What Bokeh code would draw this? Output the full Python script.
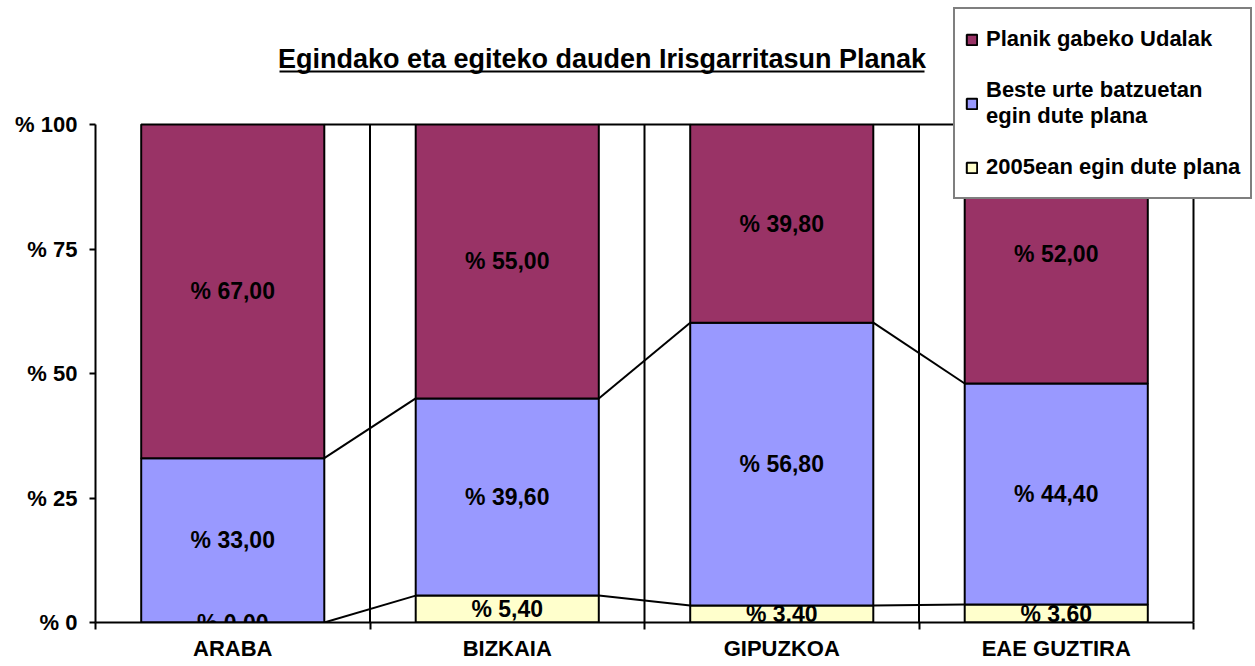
from bokeh.plotting import figure
from bokeh.models import ColumnDataSource, Range1d, FixedTicker, Legend, LegendItem
from bokeh.core.properties import value
from bokeh.embed import file_html
from bokeh.resources import INLINE

# ---------------- data ----------------
categories = ["ARABA", "BIZKAIA", "GIPUZKOA", "EAE GUZTIRA"]
s_2005 = [0.0, 5.4, 3.4, 3.6]
s_beste = [33.0, 39.6, 56.8, 44.4]
s_planik = [67.0, 55.0, 39.8, 52.0]
series_labels = ["2005ean egin dute plana",
                 "Beste urte batzuetan\negin dute plana",
                 "Planik gabeko Udalak"]
series_colors = ["#FFFFCC", "#9999FF", "#993366"]
y_ticks = [0, 25, 50, 75, 100]
y_tick_labels = ["% 0", "% 25", "% 50", "% 75", "% 100"]
title_text = "Egindako eta egiteko dauden Irisgarritasun Planak"

# ---------------- layout ----------------
FONT = "Liberation Sans"
W, H = 1255, 666
B_LEFT, B_BOTTOM = 95, 44
FRAME_W, FRAME_H = W - B_LEFT, H - B_BOTTOM
PX_PER_CAT = 274.5
PX_PER_PCT = 4.98
x_end = FRAME_W / PX_PER_CAT
y_end = FRAME_H / PX_PER_PCT
BAR_W = 0.667

n = len(categories)
centers = [i + 0.5 for i in range(n)]

p = figure(width=W, height=H, x_range=Range1d(0, x_end), y_range=Range1d(0, y_end),
           output_backend="svg", toolbar_location=None,
           min_border_left=B_LEFT, min_border_bottom=B_BOTTOM,
           min_border_top=0, min_border_right=0)
p.outline_line_color = None
p.background_fill_color = "white"
p.border_fill_color = "white"
p.xgrid.visible = False
p.ygrid.visible = False

# x axis
xa = p.xaxis[0]
xa.ticker = FixedTicker(ticks=centers, minor_ticks=list(range(n + 1)))
xa.major_label_overrides = {c: lab for c, lab in zip(centers, categories)}
xa.bounds = (0, n)
xa.axis_line_color = "black"
xa.axis_line_width = 2
xa.major_tick_line_color = None
xa.major_tick_out = 7
xa.major_tick_in = 0
xa.minor_tick_line_color = "black"
xa.minor_tick_line_width = 2
xa.minor_tick_out = 7
xa.minor_tick_in = 0
xa.major_label_standoff = 6
xa.major_label_text_font = FONT
xa.major_label_text_font_style = "bold"
xa.major_label_text_font_size = "22px"
xa.major_label_text_color = "black"

# y axis
ya = p.yaxis[0]
ya.ticker = FixedTicker(ticks=y_ticks, minor_ticks=[])
ya.major_label_overrides = {t: lab for t, lab in zip(y_ticks, y_tick_labels)}
ya.bounds = (0, 100)
ya.axis_line_color = "black"
ya.axis_line_width = 2
ya.major_tick_line_color = "black"
ya.major_tick_line_width = 2
ya.major_tick_out = 6
ya.major_tick_in = 0
ya.minor_tick_line_color = None
ya.major_label_standoff = 12
ya.major_label_text_font = FONT
ya.major_label_text_font_style = "bold"
ya.major_label_text_font_size = "22px"
ya.major_label_text_color = "black"

# vertical grid lines at category boundaries (between bars)
bounds_x = list(range(1, n + 1))
p.segment(x0=bounds_x, y0=[0] * len(bounds_x), x1=bounds_x, y1=[100] * len(bounds_x),
          line_color="black", line_width=2)

# stacked bars
series = [s_2005, s_beste, s_planik]
bottom = [0.0] * n
renderers = []
label_x, label_y, label_t = [], [], []
tops_all = []
for vals, col in zip(series, series_colors):
    top = [b + v for b, v in zip(bottom, vals)]
    src = ColumnDataSource(dict(x=centers, bottom=bottom, top=top))
    r = p.vbar(x="x", width=BAR_W, bottom="bottom", top="top", source=src,
               fill_color=col, line_color="black", line_width=2)
    renderers.append(r)
    for i in range(n):
        label_x.append(centers[i])
        label_y.append(bottom[i] + vals[i] / 2)
        label_t.append("% " + f"{vals[i]:.2f}".replace(".", ","))
    tops_all.append(top)
    bottom = top

# series lines connecting segment tops
for top in tops_all:
    p.segment(x0=[centers[i] + BAR_W / 2 for i in range(n - 1)], y0=top[:-1],
              x1=[centers[i + 1] - BAR_W / 2 for i in range(n - 1)], y1=top[1:],
              line_color="black", line_width=2)

# data labels
p.text(x=label_x, y=label_y, text=label_t, text_align="center", text_baseline="middle",
       text_font=value(FONT), text_font_style="bold", text_font_size="23px",
       text_color="black")

# title with underline (positions converted from pixels)
def ypx(py):
    return (FRAME_H - py) / PX_PER_PCT

def xpx(px):
    return (px - B_LEFT) / PX_PER_CAT

p.text(x=[xpx(601.5)], y=[ypx(58)], text=[title_text], text_align="center",
       text_baseline="middle", text_font=value(FONT), text_font_style="bold",
       text_font_size="27px", text_color="black")
p.segment(x0=[xpx(279)], y0=[ypx(71)], x1=[xpx(924)], y1=[ypx(71)],
          line_color="black", line_width=2)

# legend
items = [LegendItem(label=series_labels[k], renderers=[renderers[k]]) for k in (2, 1, 0)]
legend = Legend(items=items, location=(953 - B_LEFT, FRAME_H - 199), margin=0,
                padding=10, spacing=18,
                border_line_color="black", border_line_width=2,
                background_fill_color="white", background_fill_alpha=1.0,
                glyph_width=13, glyph_height=13, label_standoff=8, label_height=40,
                label_text_font=FONT, label_text_font_style="bold",
                label_text_font_size="22px", label_text_color="black")
p.add_layout(legend)

open("out.html", "w").write(file_html(p, INLINE))
